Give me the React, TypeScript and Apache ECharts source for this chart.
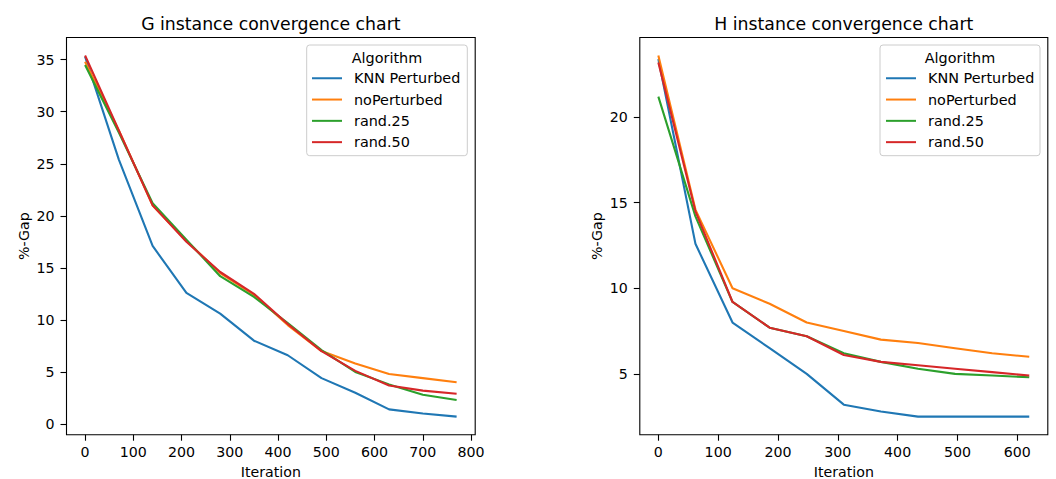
import React, { useEffect, useRef } from "react";
import * as echarts from "echarts";

const seriesNames = ["KNN Perturbed", "noPerturbed", "rand.25", "rand.50"];
const colors = ["#1f77b4", "#ff7f0e", "#2ca02c", "#d62728"];

const gIter = [0, 70, 140, 210, 280, 350, 420, 490, 560, 630, 700, 770];
const gKnn = [35.3, 25.4, 17.1, 12.6, 10.6, 8.0, 6.6, 4.4, 3.0, 1.4, 1.0, 0.7];
const gNoPert = [34.8, 28.2, 21.0, 17.6, 14.5, 12.4, 9.5, 7.0, 5.8, 4.8, 4.4, 4.0];
const gRand25 = [34.5, 28.0, 21.2, 17.7, 14.2, 12.2, 9.7, 7.1, 5.0, 3.8, 2.8, 2.3];
const gRand50 = [35.4, 28.2, 21.0, 17.5, 14.6, 12.5, 9.6, 7.0, 5.1, 3.7, 3.2, 2.9];

const hIter = [0, 62, 124, 186, 248, 310, 372, 434, 496, 558, 620];
const hKnn = [23.4, 12.6, 8.0, 6.5, 5.0, 3.2, 2.8, 2.5, 2.5, 2.5, 2.5];
const hNoPert = [23.6, 14.6, 10.0, 9.1, 8.0, 7.5, 7.0, 6.8, 6.5, 6.2, 6.0];
const hRand25 = [21.2, 14.2, 9.2, 7.7, 7.2, 6.2, 5.7, 5.3, 5.0, 4.9, 4.8];
const hRand50 = [23.2, 14.5, 9.2, 7.7, 7.2, 6.1, 5.7, 5.5, 5.3, 5.1, 4.9];

const gTicksX = [0, 100, 200, 300, 400, 500, 600, 700, 800];
const gTicksY = [0, 5, 10, 15, 20, 25, 30, 35];
const hTicksX = [0, 100, 200, 300, 400, 500, 600];
const hTicksY = [5, 10, 15, 20];

const titles = ["G instance convergence chart", "H instance convergence chart"];

const FONT = "DejaVu Sans";
const FS = 14.2;

function pad(arr: number[]) {
  const lo = Math.min(...arr);
  const hi = Math.max(...arr);
  const m = (hi - lo) * 0.05;
  return [lo - m, hi + m];
}

export default function App() {
  const ref = useRef<HTMLDivElement>(null);
  useEffect(() => {
    if (!ref.current) return;
    const chart = echarts.init(ref.current, undefined, { renderer: "svg" });

    const gSeries = [gKnn, gNoPert, gRand25, gRand50];
    const hSeries = [hKnn, hNoPert, hRand25, hRand50];
    const gx = pad(gIter);
    const gy = pad(gSeries.flat());
    const hx = pad(hIter);
    const hy = pad(hSeries.flat());

    const grids = [
      { left: 66.5, top: 37.5, width: 408.7, height: 397.2 },
      { left: 639.8, top: 37.5, width: 408, height: 397.2 },
    ];

    const axisCommon = {
      type: "value" as const,
      splitLine: { show: false },
      axisLine: { show: false, onZero: false },
      axisTick: { show: true, inside: false, length: 6, lineStyle: { color: "#000", width: 1.1 } },
      nameTextStyle: { fontFamily: FONT, fontSize: FS, color: "#000" },
    };

    const xAxes = [
      { ticks: gTicksX, range: gx },
      { ticks: hTicksX, range: hx },
    ].map((a, i) => ({
      ...axisCommon,
      gridIndex: i,
      position: "bottom",
      min: a.range[0],
      max: a.range[1],
      name: "Iteration",
      nameLocation: "middle",
      nameGap: 30,
      axisTick: { ...axisCommon.axisTick, customValues: a.ticks },
      axisLabel: {
        customValues: a.ticks,
        margin: 10.5,
        fontFamily: FONT,
        fontSize: FS,
        color: "#000",
      },
    }));

    const yAxes = [
      { ticks: gTicksY, range: gy },
      { ticks: hTicksY, range: hy },
    ].map((a, i) => ({
      ...axisCommon,
      gridIndex: i,
      position: "left",
      min: a.range[0],
      max: a.range[1],
      name: "%-Gap",
      nameLocation: "middle",
      nameGap: 36,
      axisTick: { ...axisCommon.axisTick, customValues: a.ticks },
      axisLabel: {
        customValues: a.ticks,
        margin: 12,
        fontFamily: FONT,
        fontSize: FS,
        color: "#000",
      },
    }));

    const series: any[] = [];
    [
      { iter: gIter, data: gSeries },
      { iter: hIter, data: hSeries },
    ].forEach((panel, pi) => {
      panel.data.forEach((vals, si) => {
        series.push({
          type: "line",
          name: seriesNames[si],
          xAxisIndex: pi,
          yAxisIndex: pi,
          data: panel.iter.map((x, k) => [x, vals[k]]),
          showSymbol: false,
          symbol: "none",
          color: colors[si],
          lineStyle: { width: 2.1, color: colors[si] },
          z: 2 + si,
        });
      });
    });

    const legendBoxes = [
      { x: 306.7, y: 45, w: 160.6, legendLeft: 312 },
      { x: 880, y: 45, w: 160, legendLeft: 886 },
    ];

    const legends = legendBoxes.map((b) => ({
      data: seriesNames,
      orient: "vertical",
      left: b.legendLeft,
      top: 67.6,
      padding: 0,
      itemGap: 0,
      itemWidth: 30,
      itemHeight: 2,
      icon: "rect",
      textStyle: {
        fontFamily: FONT,
        fontSize: 14.4,
        color: "#000",
        lineHeight: 21.3,
        padding: [0, 0, 0, 7],
      },
      selectedMode: false,
    }));

    const graphics: any[] = [];
    legendBoxes.forEach((b) => {
      graphics.push({
        type: "rect",
        shape: { x: b.x, y: b.y, width: b.w, height: 110.7, r: 3 },
        style: { fill: "rgba(255,255,255,0.8)", stroke: "#cccccc", lineWidth: 1 },
        z: 1,
      });
      graphics.push({
        type: "text",
        x: b.x + b.w / 2,
        y: 57.5,
        style: {
          text: "Algorithm",
          fontFamily: FONT,
          fontSize: 14.4,
          fill: "#000",
          align: "center",
          verticalAlign: "middle",
        },
        z: 2,
      });
    });

    chart.setOption({
      animation: false,
      backgroundColor: "#fff",
      title: titles.map((t, i) => ({
        text: t,
        left: grids[i].left + grids[i].width / 2,
        textAlign: "center",
        top: 15,
        padding: 0,
        textStyle: { fontFamily: FONT, fontSize: 17.3, fontWeight: "normal", color: "#000" },
      })),
      grid: grids.map((g) => ({
        ...g,
        show: true,
        borderColor: "#000",
        borderWidth: 1.1,
        backgroundColor: "#fff",
        containLabel: false,
        outerBoundsMode: "none",
      })),
      xAxis: xAxes,
      yAxis: yAxes,
      legend: legends,
      graphic: graphics,
      series,
    });
    return () => chart.dispose();
  }, []);

  return (
    <div
      ref={ref}
      style={{ position: "absolute", left: 0, top: 0, width: 1056, height: 479 }}
    />
  );
}
